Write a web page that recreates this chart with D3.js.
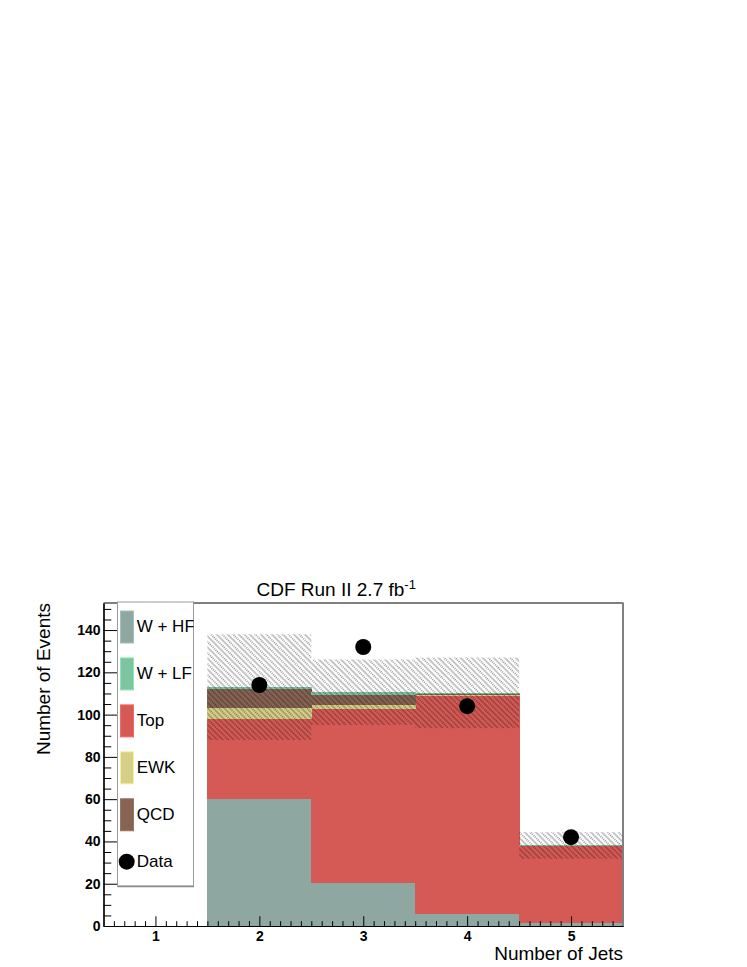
<!DOCTYPE html>
<html>
<head>
<meta charset="utf-8">
<script src="https://cdn.jsdelivr.net/npm/d3@7"></script>
<style>
  html, body { margin: 0; padding: 0; background: #fff; }
  svg { display: block; }
</style>
</head>
<body>
<svg id="chart" width="747" height="967"></svg>
<script>
// ── Data ─────────────────────────────────────────────
const bins      = [1, 2, 3, 4, 5];
const wHF       = [0, 60.0, 20.5, 5.8, 1.3];
const top_      = [0, 37.7, 82.1, 103.1, 36.4];
const ewk       = [0, 5.2, 1.9, 0.3, 0.1];
const qcd       = [0, 9.0, 5.0, 0.6, 0.1];
const wLF       = [0, 1.1, 1.1, 0.5, 0.2];
const sysErr    = [0, 25.0, 15.5, 16.7, 6.3];
const dataVals  = [null, 114, 132, 104, 42];

const yMajor = [0, 20, 40, 60, 80, 100, 120, 140];
const xMajor = [1, 2, 3, 4, 5];

const series = [
  { key: 'wHF', label: 'W + HF', values: wHF,  color: '#8ea7a0' },
  { key: 'top', label: 'Top',    values: top_, color: '#d55a55' },
  { key: 'ewk', label: 'EWK',    values: ewk,  color: '#d6cf87' },
  { key: 'qcd', label: 'QCD',    values: qcd,  color: '#876354' },
  { key: 'wLF', label: 'W + LF', values: wLF,  color: '#7dc4a0' },
];
const legendOrder = ['wHF', 'wLF', 'top', 'ewk', 'qcd'];

// ── Layout ───────────────────────────────────────────
const FONT = '"Liberation Sans", Arial, Helvetica, sans-serif';
const frame = { left: 103.5, right: 623, top: 603, bottom: 926 };

const svg = d3.select('#chart');

const x = d3.scaleLinear().domain([0.5, 5.5]).range([frame.left, frame.right]);
const y = d3.scaleLinear().domain([0, 152.8]).range([frame.bottom, frame.top]);

// hatch pattern for the uncertainty band (grey + dotted dark, "\" direction)
const defs = svg.append('defs');
const pat = defs.append('pattern')
  .attr('id', 'hatch')
  .attr('patternUnits', 'userSpaceOnUse')
  .attr('width', 7.8).attr('height', 4)
  .attr('patternTransform', 'rotate(-45)');
pat.append('line')
  .attr('x1', 1).attr('x2', 1).attr('y1', 0).attr('y2', 4)
  .attr('stroke', 'rgba(0,0,0,0.34)').attr('stroke-width', 1.3);
pat.append('line')
  .attr('x1', 4.9).attr('x2', 4.9).attr('y1', 0).attr('y2', 4)
  .attr('stroke', 'rgba(0,0,0,0.85)').attr('stroke-width', 0.9)
  .attr('stroke-dasharray', '1 1');

// ── Stacked histogram ────────────────────────────────
const rows = bins.map((b, i) => {
  const r = { bin: b };
  series.forEach(s => { r[s.key] = s.values[i]; });
  return r;
});
const stacked = d3.stack().keys(series.map(s => s.key))(rows);
const colorOf = Object.fromEntries(series.map(s => [s.key, s.color]));

svg.append('g')
  .attr('shape-rendering', 'crispEdges')
  .selectAll('g')
  .data(stacked)
  .join('g')
    .attr('fill', d => colorOf[d.key])
  .selectAll('rect')
  .data(d => d)
  .join('rect')
    .attr('x', d => x(d.data.bin - 0.5))
    .attr('width', d => x(d.data.bin + 0.5) - x(d.data.bin - 0.5) + 0.5)
    .attr('y', d => y(d[1]))
    .attr('height', d => Math.max(0, y(d[0]) - y(d[1])));

// ── Uncertainty band ─────────────────────────────────
const totals = bins.map((b, i) => d3.sum(series, s => s.values[i]));
svg.append('g').selectAll('rect')
  .data(bins.filter((b, i) => sysErr[i] > 0))
  .join('rect')
    .attr('x', b => x(b - 0.5))
    .attr('width', b => x(b + 0.5) - x(b - 0.5))
    .attr('y', b => y(totals[b - 1] + sysErr[b - 1]))
    .attr('height', b => y(totals[b - 1] - sysErr[b - 1]) - y(totals[b - 1] + sysErr[b - 1]))
    .attr('fill', 'url(#hatch)');

// ── Frame ────────────────────────────────────────────
svg.append('line')
  .attr('x1', frame.left).attr('x2', frame.right)
  .attr('y1', frame.top).attr('y2', frame.top)
  .attr('stroke', '#000').attr('stroke-width', 1);
svg.append('line')
  .attr('x1', frame.right).attr('x2', frame.right)
  .attr('y1', frame.top - 0.5).attr('y2', frame.bottom)
  .attr('stroke', '#808080').attr('stroke-width', 2);

// ── Axes ─────────────────────────────────────────────
const styleAxis = sel => sel
  .call(ax => ax.select('.domain').attr('stroke', '#000').attr('stroke-width', 1.2))
  .call(ax => ax.selectAll('.tick line').attr('stroke', '#000').attr('stroke-width', 1))
  .call(ax => ax.selectAll('text')
    .attr('fill', '#000').attr('font-size', 14).attr('font-weight', 'bold')
    .attr('font-family', FONT));

const xMinor = d3.range(6, 55).map(v => v / 10).filter(v => !xMajor.includes(v));
const yMinor = d3.range(0, 155, 5).filter(v => !yMajor.includes(v));

svg.append('g')
  .attr('transform', `translate(0,${frame.bottom})`)
  .call(d3.axisBottom(x).tickValues(xMinor).tickSize(-4.8).tickFormat('').tickSizeOuter(0))
  .call(styleAxis);

svg.append('g')
  .attr('transform', `translate(0,${frame.bottom})`)
  .call(d3.axisBottom(x).tickValues(xMajor).tickSize(-9.7).tickPadding(5).tickSizeOuter(0)
    .tickFormat(d3.format('d')))
  .call(styleAxis);

svg.append('g')
  .attr('transform', `translate(${frame.left},0)`)
  .call(d3.axisLeft(y).tickValues(yMinor).tickSize(-7.8).tickFormat('').tickSizeOuter(0))
  .call(styleAxis);

svg.append('g')
  .attr('transform', `translate(${frame.left},0)`)
  .call(d3.axisLeft(y).tickValues(yMajor).tickSize(-15.6).tickPadding(3).tickSizeOuter(0)
    .tickFormat(d3.format('d')))
  .call(styleAxis);

// ── Data points ──────────────────────────────────────
svg.append('g').selectAll('circle')
  .data(bins.map((b, i) => ({ bin: b, v: dataVals[i] })).filter(d => d.v != null))
  .join('circle')
    .attr('cx', d => x(d.bin))
    .attr('cy', d => y(d.v))
    .attr('r', 8)
    .attr('fill', '#000');

// ── Titles ───────────────────────────────────────────
const title = svg.append('text')
  .attr('x', 256.5).attr('y', 595.5)
  .attr('font-family', FONT).attr('font-size', 19)
  .attr('fill', '#000');
title.append('tspan').text('CDF Run II 2.7 fb');
title.append('tspan').attr('dy', -7).attr('font-size', 13).text('-1');

svg.append('text')
  .attr('transform', `translate(50,${frame.top}) rotate(-90)`)
  .attr('text-anchor', 'end')
  .attr('font-family', FONT).attr('font-size', 19)
  .text('Number of Events');

svg.append('text')
  .attr('x', frame.right).attr('y', 960)
  .attr('text-anchor', 'end')
  .attr('font-family', FONT).attr('font-size', 19)
  .text('Number of Jets');

// ── Legend ───────────────────────────────────────────
const leg = { x0: 117.5, x1: 193.5, y0: 602, y1: 886 };
defs.append('clipPath').attr('id', 'legclip')
  .append('rect')
  .attr('x', leg.x0).attr('y', leg.y0)
  .attr('width', leg.x1 - leg.x0).attr('height', leg.y1 - leg.y0);

const lg = svg.append('g');
lg.append('rect')
  .attr('x', leg.x0).attr('y', leg.y0)
  .attr('width', leg.x1 - leg.x0).attr('height', leg.y1 - leg.y0)
  .attr('fill', '#fff').attr('stroke', '#9a9a9a').attr('stroke-width', 1);
lg.append('line')
  .attr('x1', leg.x0).attr('x2', leg.x1 + 0.5)
  .attr('y1', leg.y1 + 0.5).attr('y2', leg.y1 + 0.5)
  .attr('stroke', '#8a8a8a').attr('stroke-width', 1.5);

const legItems = legendOrder.map(k => series.find(s => s.key === k))
  .concat([{ key: 'data', label: 'Data' }]);
const legY = d3.scalePoint().domain(legItems.map(d => d.key)).range([627, 861.7]);

const entry = lg.append('g').attr('clip-path', 'url(#legclip)')
  .selectAll('g')
  .data(legItems)
  .join('g')
    .attr('transform', d => `translate(0,${legY(d.key)})`);

entry.filter(d => d.key !== 'data')
  .append('rect')
    .attr('x', 120.5).attr('y', -16)
    .attr('width', 13).attr('height', 32)
    .attr('fill', d => d.color)
    .attr('stroke', d => d3.color(d.color).brighter(0.4))
    .attr('stroke-width', 1);

entry.filter(d => d.key === 'data')
  .append('circle')
    .attr('cx', 126.7).attr('cy', 0).attr('r', 8).attr('fill', '#000');

entry.append('text')
  .attr('x', 136.7).attr('y', 5)
  .attr('font-family', FONT).attr('font-size', 17)
  .attr('fill', '#000')
  .text(d => d.label);
</script>
</body>
</html>
